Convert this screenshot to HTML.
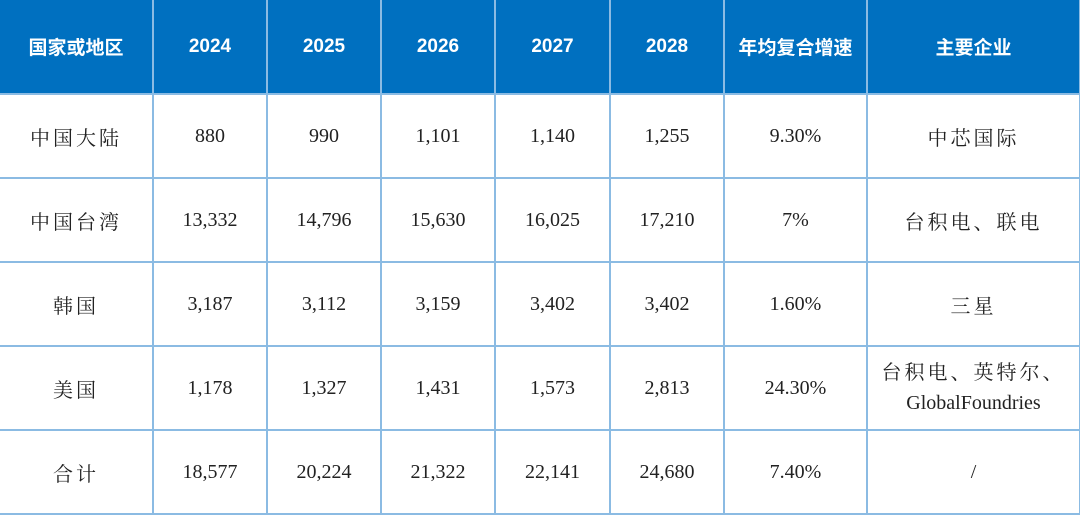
<!DOCTYPE html>
<html><head><meta charset="utf-8"><style>
body{margin:0;width:1080px;height:514px;background:#fff;overflow:hidden}
table{position:absolute;left:0;top:0;border-collapse:collapse;table-layout:fixed;width:1080px}
td,th{border:2px solid #8bbbe3;text-align:center;padding:0;overflow:hidden}
th{background:#0070c0;color:#fff;font:bold 19px "Liberation Sans","Noto Sans CJK SC",sans-serif;height:93px;border-color:#8bbbe3;border-top:none}
td{font:20px "Liberation Serif","Noto Serif CJK SC",serif;color:#222;height:82px}
td.c{letter-spacing:3px}
tr th:first-child,tr td:first-child{border-left:none}
</style></head><body>
<table>
<colgroup><col style="width:153px"><col style="width:114px"><col style="width:114px"><col style="width:114px"><col style="width:115px"><col style="width:114px"><col style="width:143px"><col style="width:213px"></colgroup>
<tr><th>国家或地区</th><th>2024</th><th>2025</th><th>2026</th><th>2027</th><th>2028</th><th>年均复合增速</th><th>主要企业</th></tr>
<tr><td class="c">中国大陆</td><td>880</td><td>990</td><td>1,101</td><td>1,140</td><td>1,255</td><td>9.30%</td><td class="c">中芯国际</td></tr>
<tr><td class="c">中国台湾</td><td>13,332</td><td>14,796</td><td>15,630</td><td>16,025</td><td>17,210</td><td>7%</td><td class="c">台积电、联电</td></tr>
<tr><td class="c">韩国</td><td>3,187</td><td>3,112</td><td>3,159</td><td>3,402</td><td>3,402</td><td>1.60%</td><td class="c">三星</td></tr>
<tr><td class="c">美国</td><td>1,178</td><td>1,327</td><td>1,431</td><td>1,573</td><td>2,813</td><td>24.30%</td><td style="line-height:30px"><span style="letter-spacing:3px">台积电、英特尔、</span><br>GlobalFoundries</td></tr>
<tr><td class="c">合计</td><td>18,577</td><td>20,224</td><td>21,322</td><td>22,141</td><td>24,680</td><td>7.40%</td><td>/</td></tr>
</table>
</body></html>
